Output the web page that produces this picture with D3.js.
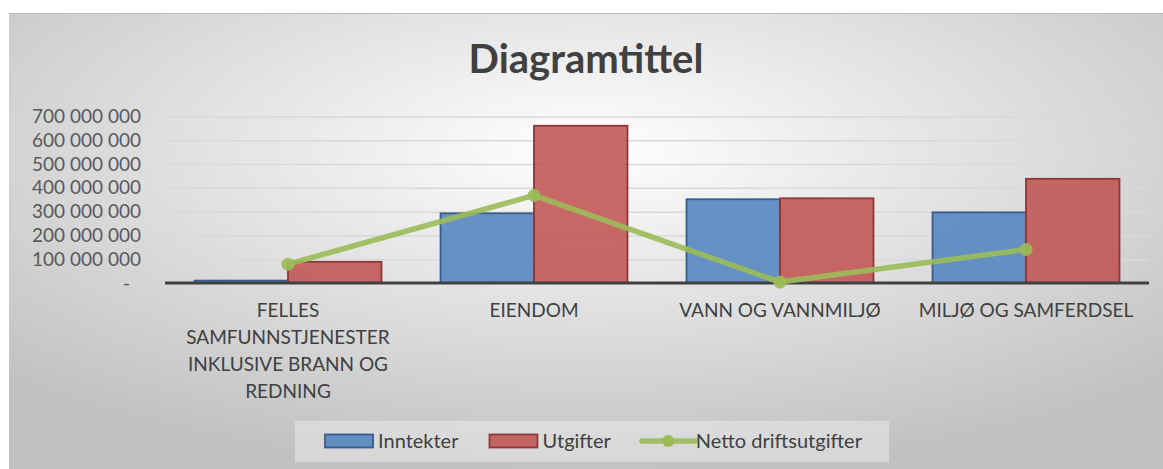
<!doctype html>
<html lang="no">
<head>
<meta charset="utf-8">
<style>
  body { margin: 0; background: #fff; }
  svg { display: block; font-family: Lato, "Noto Sans", sans-serif; }
</style>
</head>
<body>
<div id="grafico"></div>
<script src="https://d3js.org/d3.v7.min.js"></script>
<script>

// data lest av figuren
var kategorier = ["FELLES SAMFUNNSTJENESTER INKLUSIVE BRANN OG REDNING", "EIENDOM", "VANN OG VANNMILJØ", "MILJØ OG SAMFERDSEL"];
var inntekter = [10000000, 293000000, 352000000, 297000000];
var utgifter = [89000000, 661000000, 356000000, 438000000];
var netto = [79000000, 368000000, 4000000, 141000000];
var yTicks = [0, 100000000, 200000000, 300000000, 400000000, 500000000, 600000000, 700000000];
var serier = ["Inntekter", "Utgifter", "Netto driftsutgifter"];

var W = 1163, H = 469;
var plot = {left: 165, right: 1149, top: 116.5, bottom: 283};

var svg = d3.select("#grafico").append("svg").attr("width", W).attr("height", H);

// bakgrunn med radial gradient
var defs = svg.append("defs");
var grad = defs.append("radialGradient").attr("id", "bg").attr("cx", 0.5).attr("cy", 0.3).attr("r", 0.7);
grad.append("stop").attr("offset", "0%").attr("stop-color", "#ffffff");
grad.append("stop").attr("offset", "100%").attr("stop-color", "#c2c2c2");

svg.append("rect").attr("x", 9).attr("y", 13).attr("width", W - 9).attr("height", H - 13).attr("fill", "url(#bg)");
svg.append("line").attr("x1", 9).attr("x2", W).attr("y1", 13.5).attr("y2", 13.5).attr("stroke", "#bdbdbd").attr("stroke-width", 1);

svg.append("text").attr("x", 586).attr("y", 73).attr("text-anchor", "middle")
  .style("font-size", "40px").style("font-weight", "bold").attr("fill", "#404040").text("Diagramtittel");

var x = d3.scaleBand().domain(kategorier).range([plot.left, plot.right]);
var xs = d3.scaleBand().domain(["i", "u"]).range([0, x.bandwidth()]).paddingOuter(0.316);
var y = d3.scaleLinear().domain([0, 700000000]).range([plot.bottom, plot.top]);

var loc = d3.formatLocale({decimal: ",", thousands: " ", grouping: [3], currency: ["", ""]});
var fmt = loc.format(",");

// rutenett og y-akse
var yAxis = svg.append("g").attr("transform", "translate(" + plot.left + ",0)")
  .call(d3.axisLeft(y).tickValues(yTicks).tickSize(-(plot.right - plot.left)).tickPadding(24)
    .tickFormat(function(d) { return d === 0 ? "-" : fmt(d); }));
yAxis.select(".domain").remove();
yAxis.selectAll(".tick line").attr("stroke", "#d9d9d9").attr("stroke-width", 1.5);
yAxis.selectAll(".tick text").attr("fill", "#595959").style("font-size", "19px").style("font-family", "Lato, sans-serif")
  .attr("dx", function(d) { return d === 0 ? -11 : 0; });

var grupper = svg.selectAll("g.kat").data(kategorier).enter().append("g").attr("class", "kat")
  .attr("transform", function(d) { return "translate(" + x(d) + ",0)"; });

grupper.append("rect").attr("x", xs("i")).attr("width", xs.bandwidth())
  .attr("y", function(d, i) { return y(inntekter[i]); })
  .attr("height", function(d, i) { return y(0) - y(inntekter[i]); })
  .attr("fill", "#4f81bd").attr("fill-opacity", 0.85).attr("stroke", "#385d8a").attr("stroke-width", 1.8);

grupper.append("rect").attr("x", xs("u")).attr("width", xs.bandwidth())
  .attr("y", function(d, i) { return y(utgifter[i]); })
  .attr("height", function(d, i) { return y(0) - y(utgifter[i]); })
  .attr("fill", "#c0504d").attr("fill-opacity", 0.85).attr("stroke", "#8c3836").attr("stroke-width", 1.8);

// x-akse
svg.append("line").attr("x1", plot.left).attr("x2", plot.right).attr("y1", y(0)).attr("y2", y(0))
  .attr("stroke", "#404040").attr("stroke-width", 3);

// netto linje
var linje = d3.line().x(function(d, i) { return x(kategorier[i]) + x.bandwidth() / 2; }).y(function(d) { return y(d); });
svg.append("path").datum(netto).attr("d", linje).attr("fill", "none")
  .attr("stroke", "#9bbb59").attr("stroke-opacity", 0.9).attr("stroke-width", 5.5).attr("stroke-linejoin", "round");
svg.selectAll("circle.pkt").data(netto).enter().append("circle").attr("class", "pkt")
  .attr("cx", function(d, i) { return x(kategorier[i]) + x.bandwidth() / 2; })
  .attr("cy", function(d) { return y(d); }).attr("r", 6.5).attr("fill", "#9bbb59").attr("fill-opacity", 0.9);

// kategorietiketter med linjeskift
grupper.append("text").attr("x", x.bandwidth() / 2).attr("y", 317).attr("text-anchor", "middle")
  .attr("fill", "#404040").style("font-size", "19px")
  .each(function(d) {
    var t = d3.select(this), ord = d.split(" "), linjer = [], cur = [];
    var tmp = t.append("tspan");
    ord.forEach(function(w) {
      var test = cur.concat([w]).join(" ");
      tmp.text(test);
      if (tmp.node().getComputedTextLength() > 232 && cur.length) { linjer.push(cur.join(" ")); cur = [w]; }
      else cur.push(w);
    });
    linjer.push(cur.join(" "));
    tmp.remove();
    linjer.forEach(function(l, k) {
      t.append("tspan").attr("x", x.bandwidth() / 2).attr("dy", k === 0 ? 0 : 27).text(l);
    });
  });

// legende
var leg = svg.append("g");
var legBox = leg.append("rect").attr("fill", "#f2f2f2").attr("fill-opacity", 0.45);
var lx = 0;
var items = leg.selectAll("g").data(serier).enter().append("g");
items.each(function(d, i) {
  var g = d3.select(this).attr("transform", "translate(" + lx + ",0)");
  if (i < 2) {
    g.append("rect").attr("x", 0).attr("y", -6.5).attr("width", 48).attr("height", 13)
      .attr("fill", i === 0 ? "#4f81bd" : "#c0504d").attr("fill-opacity", 0.85)
      .attr("stroke", i === 0 ? "#385d8a" : "#8c3836").attr("stroke-width", 1.8);
  } else {
    g.append("line").attr("x1", 0).attr("x2", 53).attr("y1", 0).attr("y2", 0)
      .attr("stroke", "#9bbb59").attr("stroke-width", 5.5).attr("stroke-linecap", "round").attr("stroke-opacity", 0.9);
    g.append("circle").attr("cx", 26.5).attr("cy", 0).attr("r", 6).attr("fill", "#9bbb59");
  }
  var sw = i < 2 ? 53 : 54;
  var tx = g.append("text").attr("x", sw).attr("y", 7).attr("fill", "#404040").style("font-size", "20px").text(d);
  lx += sw + tx.node().getComputedTextLength() + 31;
});
var legW = lx - 31;
var l0 = 593.5 - legW / 2;
leg.attr("transform", "translate(" + l0 + ",441)");
legBox.attr("x", -30).attr("y", -20).attr("width", legW + 57).attr("height", 41);

</script>
</body>
</html>
